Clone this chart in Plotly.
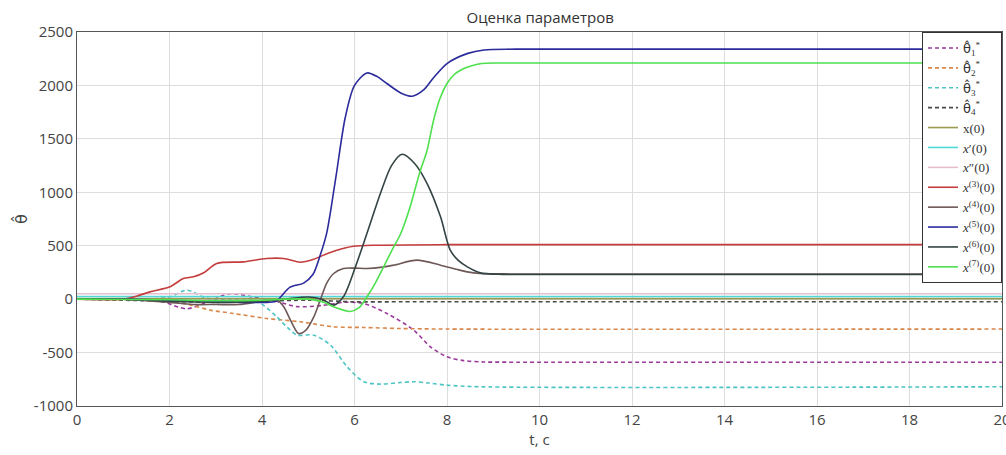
import plotly.graph_objects as go

# ---------------- data ----------------
t_x0 = [0, 20]
x0_vals = [5, 5]
t_x1 = [0, 20]
x1_vals = [25, 25]
t_x2 = [0, 20]
x2_vals = [50, 50]

t_x3 = [0, 1.0, 1.3, 1.58, 2.01, 2.3, 2.52, 2.75, 3.02, 3.6, 4.1, 4.47, 4.83, 5.1, 5.33, 5.6, 5.98, 6.5, 8, 20]
x3_vals = [0, 0, 30, 68, 115, 193, 209, 250, 334, 349, 380, 380, 345, 370, 412, 455, 495, 505, 510, 510]

t_x4 = [0, 1, 2, 2.5, 3, 3.5, 4.0, 4.32, 4.47, 4.62, 4.79, 4.95, 5.12, 5.25, 5.4, 5.55, 5.76, 6.0, 6.27, 6.6, 6.85, 7.35, 7.86, 8.2, 8.44, 8.72, 9.2, 10, 20]
x4_vals = [0, 0, -30, -50, -50, -50, -20, -9, -72, -200, -321, -290, -166, -20, 150, 240, 287, 290, 287, 300, 318, 365, 318, 280, 255, 240, 236, 235, 235]

t_x5 = [0, 1, 2, 3, 3.5, 4.0, 4.3, 4.6, 4.9, 5.1, 5.25, 5.4, 5.6, 5.8, 6.0, 6.27, 6.5, 6.7, 7.0, 7.25, 7.5, 7.7, 8.0, 8.45, 8.8, 9.5, 20]
x5_vals = [0, 0, -10, -20, -30, -30, -20, 110, 150, 230, 400, 620, 1150, 1700, 2000, 2117, 2080, 2018, 1930, 1899, 1960, 2067, 2205, 2300, 2332, 2340, 2340]

t_x6 = [0, 1, 2, 3, 4, 4.5, 5.0, 5.3, 5.55, 5.76, 6.02, 6.27, 6.56, 6.8, 7.03, 7.3, 7.57, 7.86, 8.07, 8.25, 8.44, 8.72, 9.2, 10, 20]
x6_vals = [0, 0, -20, -30, -20, 0, 20, 0, -56, 22, 302, 617, 989, 1250, 1356, 1270, 1082, 770, 458, 360, 302, 246, 232, 230, 230]

t_x7 = [0, 2, 3, 4, 4.5, 5.0, 5.3, 5.6, 5.9, 6.1, 6.27, 6.45, 6.63, 6.8, 7.0, 7.2, 7.4, 7.57, 7.71, 7.85, 8.0, 8.15, 8.3, 8.5, 8.75, 9.2, 20]
x7_vals = [0, -5, -15, -10, 0, 0, -25, -80, -115, -80, 22, 150, 302, 450, 614, 860, 1170, 1394, 1674, 1880, 2018, 2100, 2145, 2180, 2205, 2210, 2210]

t_th1 = [0, 1, 1.8, 2.37, 2.8, 3.3, 3.8, 4.3, 4.76, 5.3, 5.76, 6.19, 6.7, 7.28, 7.64, 8.0, 8.36, 8.8, 9.5, 20]
th1_vals = [0, 0, -20, -90, -30, 50, 20, -20, -70, -60, -30, -40, -134, -290, -446, -540, -575, -588, -590, -590]

t_th2 = [0, 1, 2, 2.5, 2.88, 3.38, 4.1, 4.83, 5.55, 6.2, 7.0, 8, 20]
th2_vals = [0, -5, -20, -60, -103, -134, -181, -212, -259, -265, -275, -280, -280]

t_th3 = [0, 1.5, 2.01, 2.37, 2.81, 3.3, 3.8, 4.03, 4.32, 4.61, 4.76, 5.12, 5.48, 5.84, 6.2, 6.56, 7.0, 7.28, 7.6, 8.0, 8.72, 20]
th3_vals = [0, 0, 22, 84, 7, 0, 0, -56, -166, -290, -337, -337, -430, -633, -773, -795, -780, -773, -785, -805, -820, -820]

t_th4 = [0, 2, 3, 4, 5, 6, 7, 20]
th4_vals = [0, -20, -30, -20, -10, -25, -25, -25]

x_ticks = [0, 2, 4, 6, 8, 10, 12, 14, 16, 18, 20]
y_ticks = [-1000, -500, 0, 500, 1000, 1500, 2000, 2500]

# ---------------- figure ----------------
fig = go.Figure()

HAT = "<span style='font-family:DejaVu Sans'>θ̂</span>"
DASH = "4px,3px"
series = [
    (t_th1, th1_vals, HAT + "<sub>1</sub><sup>*</sup>", "#9b3a9b", DASH),
    (t_th2, th2_vals, HAT + "<sub>2</sub><sup>*</sup>", "#d9874a", DASH),
    (t_th3, th3_vals, HAT + "<sub>3</sub><sup>*</sup>", "#4cc4c4", DASH),
    (t_th4, th4_vals, HAT + "<sub>4</sub><sup>*</sup>", "#4a4a4a", DASH),
    (t_x0, x0_vals, "x(0)", "#9c9a52", "solid"),
    (t_x1, x1_vals, "<i>x</i>′(0)", "#4fd8d8", "solid"),
    (t_x2, x2_vals, "<i>x</i>″(0)", "#e6bfcc", "solid"),
    (t_x3, x3_vals, "<i>x</i><sup>(3)</sup>(0)", "#c43c3c", "solid"),
    (t_x4, x4_vals, "<i>x</i><sup>(4)</sup>(0)", "#6e5858", "solid"),
    (t_x5, x5_vals, "<i>x</i><sup>(5)</sup>(0)", "#2b2b9c", "solid"),
    (t_x6, x6_vals, "<i>x</i><sup>(6)</sup>(0)", "#344444", "solid"),
    (t_x7, x7_vals, "<i>x</i><sup>(7)</sup>(0)", "#4ee04e", "solid"),
]

for tt, vv, name, color, dash in series:
    fig.add_trace(go.Scatter(
        x=tt, y=vv, name=name, mode="lines",
        line=dict(color=color, width=1.6, dash=dash, shape="spline", smoothing=0.8),
    ))

AX_FONT = dict(family="Open Sans, DejaVu Sans, sans-serif", size=15, color="#444444")

fig.update_layout(
    width=1006, height=455,
    paper_bgcolor="white", plot_bgcolor="white",
    margin=dict(l=77, r=4, t=32, b=49, autoexpand=False),
    title=dict(text="Оценка параметров", x=0.537, xanchor="center", y=0.96, yanchor="middle",
               font=dict(family="Open Sans, DejaVu Sans, sans-serif", size=15, color="#333333")),
    showlegend=True,
    legend=dict(
        x=1.0, xanchor="right", y=1.0, yanchor="top",
        bgcolor="white", bordercolor="#333333", borderwidth=1,
        font=dict(family="Liberation Serif, serif", size=13, color="#333333"),
        tracegroupgap=0, itemwidth=30,
    ),
)

fig.update_xaxes(
    range=[0, 20], tickmode="array", tickvals=x_ticks, ticktext=[str(v) for v in x_ticks],
    showgrid=True, gridcolor="#dddddd", gridwidth=1,
    showline=True, linecolor="#555555", linewidth=1, mirror=True,
    zeroline=False, ticks="", tickfont=AX_FONT, automargin=False,
    ticklabeloverflow="allow",
    title=dict(text="t, c", font=AX_FONT, standoff=6),
)
fig.update_yaxes(
    range=[-1000, 2500], tickmode="array", tickvals=y_ticks, ticktext=[str(v) for v in y_ticks],
    showgrid=True, gridcolor="#dddddd", gridwidth=1,
    showline=True, linecolor="#555555", linewidth=1, mirror=True,
    zeroline=False, ticks="", tickfont=AX_FONT, automargin=False,
    title=dict(text=HAT, font=dict(family="DejaVu Sans, sans-serif", size=16, color="#444444"), standoff=2),
)

fig.write_html("out.html", config={"displayModeBar": False},
               post_script="document.body.style.margin='0px';")
